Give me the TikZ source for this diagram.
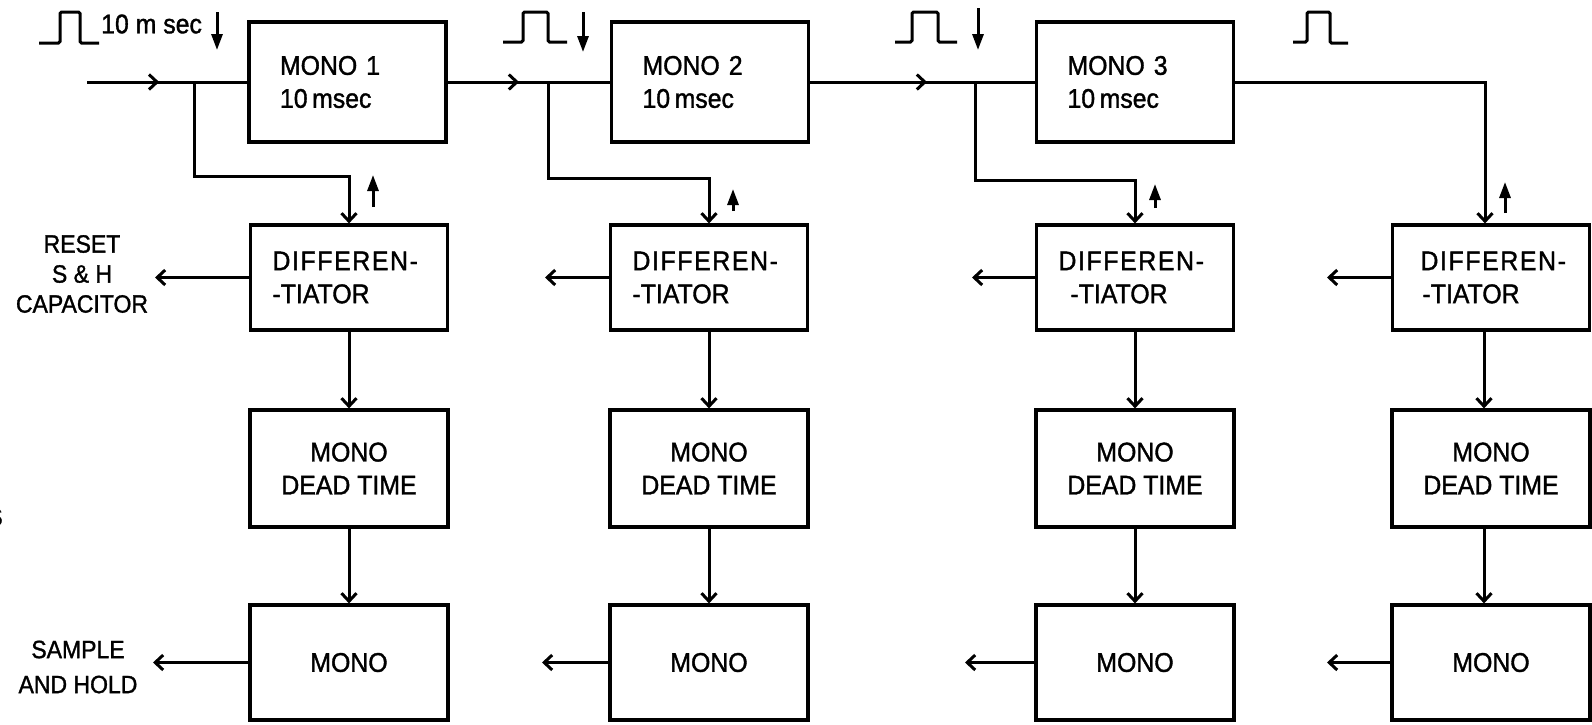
\documentclass[tikz,border=0pt]{standalone}
\usepackage{fontspec}
\setmainfont{Liberation Sans}[FakeStretch=0.92,FakeBold=1.3,AutoFakeBold=1.3]
\usetikzlibrary{arrows.meta,decorations.markings}
\newcommand{\bxfont}{\fontsize{27}{33}\selectfont}
\newcommand{\lbfont}{\fontsize{25}{30}\selectfont}
\newcommand{\dsp}{\addfontfeature{LetterSpace=6}}
\begin{document}
\begin{tikzpicture}[x=1pt,y=-1pt,
  box/.style={draw, line width=3.2pt, inner ysep=0pt, font=\bxfont},
  topbox/.style={box, text width=135pt, inner xsep=31pt, minimum height=120pt, align=left},
  diffbox/.style={box, text width=153pt, inner xsep=22pt, minimum height=105pt, align=left},
  dtbox/.style={box, inner xsep=0pt, minimum width=198pt, minimum height=117pt, align=center},
  mbox/.style={box, inner xsep=0pt, minimum width=198pt, minimum height=115pt, align=center},
  conn/.style={line width=3pt},
  arr/.style={conn, -{Straight Barb[length=8pt,width=15pt]}},
  midarr/.style={conn, postaction={decorate}, decoration={markings, mark=at position #1 with {\arrow{Straight Barb[length=8pt,width=15pt]}}}},
  flag/.style={line width=3pt, -{Triangle[length=16pt,width=11pt]}},
  pulse/.style={line width=3pt, rounded corners=1.5pt},
  lbl/.style={font=\lbfont, align=center, inner sep=0pt}
]
\useasboundingbox (0,0) rectangle (1592,724);

% top row monostables
\node[topbox] (M1) at (347.5,82) {MONO 1\\10\,msec};
\node[topbox] (M2) at (710,82) {MONO 2\\10\,msec};
\node[topbox] (M3) at (1135,82) {MONO 3\\10\,msec};

% columns
\node[diffbox] (D1) at (349,277.5) {{\dsp DIFFEREN-}\\-TIATOR};
\node[diffbox] (D2) at (709,277.5) {{\dsp DIFFEREN-}\\-TIATOR};
\node[diffbox] (D3) at (1135,277.5) {{\dsp DIFFEREN-}\\\hspace*{12pt}-TIATOR};
\node[diffbox] (D4) at (1491,277.5) {\hspace*{6pt}{\dsp DIFFEREN-}\\\hspace*{8pt}-TIATOR};

\node[dtbox] (T1) at (349,468.5) {MONO\\DEAD TIME};
\node[dtbox] (T2) at (709,468.5) {MONO\\DEAD TIME};
\node[dtbox] (T3) at (1135,468.5) {MONO\\DEAD TIME};
\node[dtbox] (T4) at (1491,468.5) {MONO\\DEAD TIME};

\node[mbox] (B1) at (349,662.5) {MONO};
\node[mbox] (B2) at (709,662.5) {MONO};
\node[mbox] (B3) at (1135,662.5) {MONO};
\node[mbox] (B4) at (1491,662.5) {MONO};

% input chain
\coordinate (in) at (87,82);
\coordinate (j1) at (194,82);
\coordinate (k1) at (194,176);
\coordinate (j2) at (548,82);
\coordinate (k2) at (548,178);
\coordinate (j3) at (975,82);
\coordinate (k3) at (975,180);

\draw[midarr=0.45] (in) -- (M1.west);
\draw[midarr=0.44] (M1.east) -- (M2.west);
\draw[midarr=0.52] (M2.east) -- (M3.west);

\draw[arr] (j1) -- (k1) -| (D1.north);
\draw[arr] (j2) -- (k2) -| (D2.north);
\draw[arr] (j3) -- (k3) -| (D3.north);
\draw[arr] (M3.east) -| ([xshift=-6pt]D4.north);

% vertical chains
\draw[arr] (D1.south) -- (T1.north);
\draw[arr] (T1.south) -- (B1.north);
\draw[arr] (D2.south) -- (T2.north);
\draw[arr] (T2.south) -- (B2.north);
\draw[arr] (D3.south) -- (T3.north);
\draw[arr] (T3.south) -- (B3.north);
\draw[arr] ([xshift=-7pt]D4.south) -- ([xshift=-7pt]T4.north);
\draw[arr] ([xshift=-7pt]T4.south) -- ([xshift=-7pt]B4.north);

% outputs to the left
\coordinate (r1) at (155,277.5);
\coordinate (r2) at (545,277.5);
\coordinate (r3) at (972,277.5);
\coordinate (r4) at (1327,277.5);
\coordinate (s1) at (153,662.5);
\coordinate (s2) at (542,662.5);
\coordinate (s3) at (965,662.5);
\coordinate (s4) at (1327,662.5);
\draw[arr] (D1.west) -- (r1);
\draw[arr] (D2.west) -- (r2);
\draw[arr] (D3.west) -- (r3);
\draw[arr] (D4.west) -- (r4);
\draw[arr] (B1.west) -- (s1);
\draw[arr] (B2.west) -- (s2);
\draw[arr] (B3.west) -- (s3);
\draw[arr] (B4.west) -- (s4);

% labels
\node[lbl] (reset) at (82,274) {RESET\\S \& H\\CAPACITOR};
\node[lbl, font=\fontsize{25}{35}\selectfont] (sah) at (78,667) {SAMPLE\\AND HOLD};
\node[lbl] (cut) at (-5,517) {S};
\node[anchor=west, inner sep=0pt, font=\fontsize{27}{30}\selectfont] (ms) at (101,24) {10 m sec};

% pulse symbols
\draw[pulse] (39,43) -- (60,43) -- (60,12) -- (80,12) -- (80,43) -- (99,43);
\draw[pulse] (503,42) -- (523,42) -- (523,12) -- (548,12) -- (548,42) -- (567,42);
\draw[pulse] (895,42) -- (912,42) -- (912,12) -- (938,12) -- (938,42) -- (957,42);
\draw[pulse] (1293,42) -- (1307,42) -- (1307,12) -- (1330,12) -- (1330,43) -- (1348,43);

% timing marks
\draw[flag] (217,12) -- (217,50);
\draw[flag] (583,12) -- (583,52);
\draw[flag] (978,8) -- (978,50);
\draw[flag] (373,207) -- (373,175);
\draw[flag] (733,211) -- (733,189);
\draw[flag] (1155,208) -- (1155,184);
\draw[flag] (1505,213) -- (1505,182);
\end{tikzpicture}
\end{document}
